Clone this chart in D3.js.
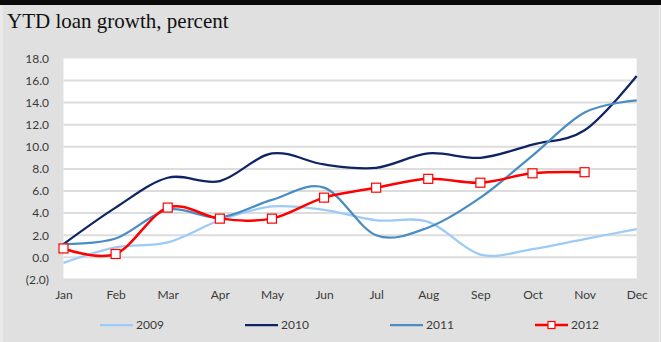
<!DOCTYPE html>
<html>
<head>
<meta charset="utf-8">
<script src="https://cdn.jsdelivr.net/npm/d3@7"></script>
<style>
  html, body { margin: 0; padding: 0; background: #e0e0e0; }
  svg { display: block; }
</style>
</head>
<body>
<svg id="chart" width="661" height="342"></svg>
<script>
// Month labels along the x axis
const months = ["Jan", "Feb", "Mar", "Apr", "May", "Jun", "Jul", "Aug", "Sep", "Oct", "Nov", "Dec"];

// Year-to-date loan growth, percent
const y2009 = [-0.5, 0.9, 1.35, 3.35, 4.6, 4.3, 3.35, 3.2, 0.25, 0.75, 1.65, 2.55];
const y2010 = [1.2, 4.5, 7.2, 6.9, 9.4, 8.4, 8.1, 9.4, 9.0, 10.2, 11.5, 16.4];
const y2011 = [1.2, 1.7, 4.3, 3.6, 5.2, 6.3, 2.0, 2.7, 5.4, 9.2, 13.1, 14.2];
const y2012 = [0.8, 0.3, 4.5, 3.5, 3.5, 5.4, 6.3, 7.1, 6.75, 7.6, 7.7];

// Y axis ticks
const yTicks = [-2, 0, 2, 4, 6, 8, 10, 12, 14, 16, 18];

const seriesNames = ["2009", "2010", "2011", "2012"];
const seriesValues = [y2009, y2010, y2011, y2012];
const seriesColors = ["#9dcbf7", "#0f2463", "#4b8dc2", "#ff0000"];
const seriesWidths = [2.25, 2.25, 2.25, 2.5];

const svg = d3.select("#chart");
const W = 661, H = 342;

// Frame: grey page, black strip across the top, faint light edges
svg.append("rect").attr("width", W).attr("height", H).attr("fill", "#e0e0e0");
svg.append("rect").attr("x", 0).attr("y", 0).attr("width", 3).attr("height", H).attr("fill", "#e9e9e9");
svg.append("rect").attr("x", 659).attr("y", 0).attr("width", 1).attr("height", H).attr("fill", "#ececec");
svg.append("rect").attr("width", W).attr("height", 5).attr("fill", "#0a0a0a");

svg.append("text")
  .attr("x", 7).attr("y", 28)
  .attr("font-family", "'Liberation Serif', 'Times New Roman', serif")
  .attr("font-size", 21)
  .attr("fill", "#111")
  .text("YTD loan growth, percent");

const x = d3.scalePoint().domain(months).range([63.5, 636.7]);
const y = d3.scaleLinear().domain([-2, 18]).range([279.4, 58.4]);

// Plot area
svg.append("rect")
  .attr("x", x("Jan")).attr("y", y(18))
  .attr("width", x("Dec") - x("Jan")).attr("height", y(-2) - y(18))
  .attr("fill", "#ffffff");

// Horizontal gridlines
svg.append("g")
  .selectAll("line")
  .data(yTicks.filter(v => v < 18))
  .join("line")
  .attr("x1", x("Jan")).attr("x2", x("Dec"))
  .attr("y1", d => y(d)).attr("y2", d => y(d))
  .attr("stroke", "#dcdcdc")
  .attr("stroke-width", 2);

const labelFont = "Lato, 'Open Sans', sans-serif";
const labelColor = "#3a3a3a";

// Y axis labels
const yAxis = d3.axisLeft(y)
  .tickValues(yTicks)
  .tickSize(0)
  .tickPadding(0)
  .tickFormat(v => v < 0 ? "(" + Math.abs(v).toFixed(1) + ")" : v.toFixed(1));
const gy = svg.append("g").attr("transform", "translate(49,0)").call(yAxis);
gy.select(".domain").remove();
gy.selectAll("text")
  .attr("font-family", labelFont)
  .attr("font-size", 12)
  .attr("fill", labelColor);

// X axis labels
const xAxis = d3.axisBottom(x).tickSize(0).tickPadding(0);
const gx = svg.append("g").attr("transform", "translate(0,290)").call(xAxis);
gx.select(".domain").remove();
gx.selectAll("text")
  .attr("font-family", labelFont)
  .attr("font-size", 12)
  .attr("fill", labelColor);

// Series lines
const line = d3.line()
  .x((d, i) => x(months[i]))
  .y(d => y(d))
  .curve(d3.curveCardinal.tension(0));

const gLines = svg.append("g").attr("fill", "none");
seriesValues.forEach((vals, k) => {
  gLines.append("path")
    .datum(vals)
    .attr("d", line)
    .attr("stroke", seriesColors[k])
    .attr("stroke-width", seriesWidths[k])
    .attr("stroke-linejoin", "round");
});

// 2012 markers
svg.append("g")
  .selectAll("rect")
  .data(y2012)
  .join("rect")
  .attr("x", (d, i) => x(months[i]) - 4.5)
  .attr("y", d => y(d) - 4.5)
  .attr("width", 9).attr("height", 9)
  .attr("fill", "#ffffff")
  .attr("stroke", "#ff0000")
  .attr("stroke-width", 1.2);

// Legend
const legendX = [100, 245, 390, 535];
const legendY = 325;
const lg = svg.append("g");
seriesNames.forEach((name, k) => {
  lg.append("line")
    .attr("x1", legendX[k]).attr("x2", legendX[k] + 33)
    .attr("y1", legendY).attr("y2", legendY)
    .attr("stroke", seriesColors[k])
    .attr("stroke-width", seriesWidths[k]);
  if (name === "2012") {
    lg.append("rect")
      .attr("x", legendX[k] + 16.5 - 3.5).attr("y", legendY - 3.5)
      .attr("width", 7).attr("height", 7)
      .attr("fill", "#fff").attr("stroke", "#ff0000").attr("stroke-width", 1.2);
  }
  lg.append("text")
    .attr("x", legendX[k] + 36).attr("y", legendY + 4.3)
    .attr("font-family", labelFont)
    .attr("font-size", 12)
    .attr("fill", labelColor)
    .text(name);
});
</script>
</body>
</html>
